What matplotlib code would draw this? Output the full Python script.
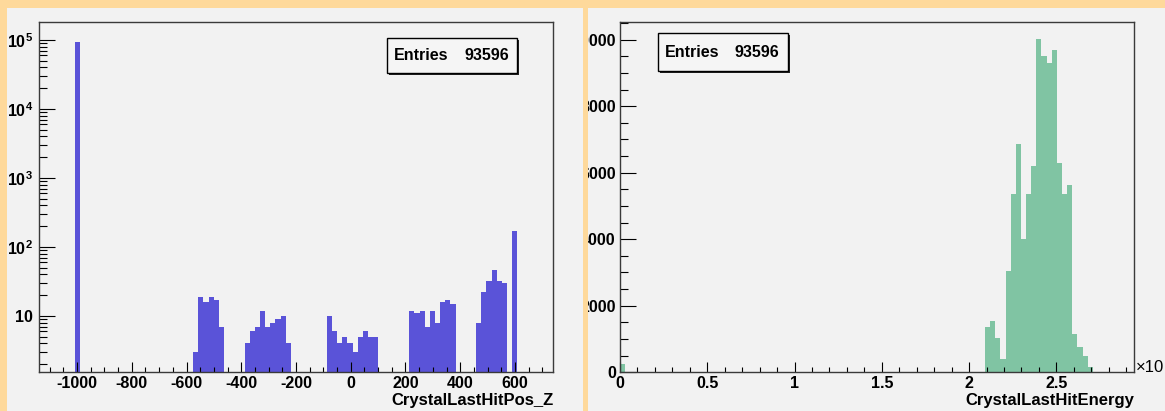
import numpy as np
import matplotlib.pyplot as plt
from matplotlib.ticker import MultipleLocator, FixedLocator, LogLocator, NullFormatter
from matplotlib.patches import Rectangle
from matplotlib.transforms import Bbox, TransformedBbox

plt.rcParams['font.family'] = 'Liberation Sans'
plt.rcParams['font.weight'] = 'bold'
plt.rcParams['axes.labelweight'] = 'bold'
plt.rcParams['axes.unicode_minus'] = False
plt.rcParams['mathtext.fontset'] = 'custom'
plt.rcParams['mathtext.rm'] = 'Liberation Sans:bold'
plt.rcParams['mathtext.it'] = 'Liberation Sans:bold'
plt.rcParams['mathtext.bf'] = 'Liberation Sans:bold'

# CrystalLastHitPos_Z : 100 bins from -1140 to 740, only filled bins listed
pos_range = (-1140, 740)
pos_nbins = 100
pos_bins = [7,
            30, 31, 32, 33, 34, 35,
            40, 41, 42, 43, 44, 45, 46, 47, 48,
            56, 57, 58, 59, 60, 61, 62, 63, 64, 65,
            72, 73, 74, 75, 76, 77, 78, 79, 80,
            85, 86, 87, 88, 89, 90,
            92]
pos_counts = [92943,
              3, 19, 16, 19, 17, 7,
              4, 6, 7, 12, 7, 8, 9, 10, 4,
              10, 6, 4, 5, 4, 3, 5, 6, 5, 5,
              12, 11, 12, 7, 12, 8, 16, 17, 15,
              8, 22, 32, 46, 32, 30,
              172]

# CrystalLastHitEnergy : 100 bins from 0 to 2.945 (x10^3)
energy_range = (0, 2.945)
energy_nbins = 100
energy_bins = [0, 71, 72, 73, 74, 75, 76, 77, 78, 79, 80,
               81, 82, 83, 84, 85, 86, 87, 88, 89, 90, 91]
energy_counts = [262, 1372, 1544, 1023, 400, 3058, 5366, 6870, 4002, 5356, 6187,
                 10020, 9497, 9298, 9678, 6289, 5366, 5616, 1144, 770, 500, 169]
n_entries = 93596

W, H = 1165, 411
PAD_BG = '#f2f2f2'
FRAME = '#fed99b'
BLUE = '#5a53d8'
GREEN = '#80c4a3'

def fx(x):
    return x / W

def fy(y):
    return 1 - y / H

fig = plt.figure(figsize=(W / 100, H / 100), dpi=100)
fig.patch.set_facecolor(FRAME)

# the two canvas pads
fig.add_artist(Rectangle((fx(7), 0), fx(583 - 7), fy(8), transform=fig.transFigure,
                         facecolor=PAD_BG, edgecolor='none', zorder=-5))
fig.add_artist(Rectangle((fx(588), 0), fx(W - 588), fy(8), transform=fig.transFigure,
                         facecolor=PAD_BG, edgecolor='none', zorder=-5))

ax1 = fig.add_axes([fx(38.7), fy(372.3), fx(553.3 - 38.7), (372.3 - 22.3) / H])
ax2 = fig.add_axes([fx(620), fy(372.3), fx(1134 - 620), (372.3 - 22.3) / H])


def fill_hist(ax, rng, nbins, bins, counts, color, log):
    edges = np.linspace(rng[0], rng[1], nbins + 1)
    full = np.zeros(nbins)
    full[bins] = counts
    ax.hist(edges[:-1], bins=edges, weights=full, histtype='stepfilled',
            color=color, linewidth=0, log=log)


for ax in (ax1, ax2):
    ax.set_facecolor(PAD_BG)
    for s in ax.spines.values():
        s.set_color('#3a3a3a')
        s.set_linewidth(1.0)
    ax.tick_params(which='both', direction='in', width=0.8, color='black',
                   labelsize=11.6, top=False, right=False)
    ax.tick_params(axis='y', which='major', length=11.5)
    ax.tick_params(axis='y', which='minor', length=5.8)
    ax.tick_params(axis='x', which='major', length=7.5, pad=3)
    ax.tick_params(axis='x', which='minor', length=3.3)

# left: position, log scale
fill_hist(ax1, pos_range, pos_nbins, pos_bins, pos_counts, BLUE, True)
ax1.set_xlim(pos_range)
ax1.set_ylim(1.53, 1.8e5)
ax1.xaxis.set_major_locator(MultipleLocator(200))
ax1.xaxis.set_minor_locator(MultipleLocator(50))
ax1.yaxis.set_major_locator(FixedLocator([10, 1e2, 1e3, 1e4, 1e5]))
ax1.set_yticklabels(['10', '$10^{2}$', '$10^{3}$', '$10^{4}$', '$10^{5}$'])
ax1.yaxis.set_minor_locator(LogLocator(base=10, subs=np.arange(2, 10)))
ax1.yaxis.set_minor_formatter(NullFormatter())
ax1.tick_params(axis='y', which='major', pad=4)
ax1.set_xlabel('CrystalLastHitPos_Z', fontsize=12, fontweight='bold', loc='right', va='center')
ax1.xaxis.set_label_coords(1.0, -27.7 / 350)

# right: energy, linear scale
fill_hist(ax2, energy_range, energy_nbins, energy_bins, energy_counts, GREEN, False)
ax2.set_xlim(energy_range)
ax2.set_ylim(0, 10521)
ax2.xaxis.set_major_locator(MultipleLocator(0.5))
ax2.xaxis.set_minor_locator(MultipleLocator(0.1))
ax2.set_xticks([0, 0.5, 1, 1.5, 2, 2.5])
ax2.set_xticklabels(['0', '0.5', '1', '1.5', '2', '2.5'])
ax2.set_yticks([0, 2000, 4000, 6000, 8000, 10000])
ax2.set_yticklabels(['0', '2000', '4000', '6000', '8000', '10000'])
ax2.yaxis.set_minor_locator(MultipleLocator(500))
ax2.tick_params(axis='y', which='major', pad=3)
ax2.set_xlabel('CrystalLastHitEnergy', fontsize=12, fontweight='bold', loc='right', va='center')
ax2.xaxis.set_label_coords(1.0, -27.7 / 350)
ax2.text(1.003, 0.013, '\u00d710', transform=ax2.transAxes, fontsize=12,
         fontweight='normal', ha='left', va='center')

# y labels of the right pad are cut at the pad edge
pad_clip = TransformedBbox(Bbox.from_extents(fx(588), 0, 1, 1), fig.transFigure)
for lab in ax2.get_yticklabels():
    lab.set_clip_box(pad_clip)
    lab.set_clip_on(True)


def stats_box(x0, y0, x1, y1):
    fig.add_artist(Rectangle((fx(x0 + 2), fy(y1 + 2)), fx(x1 - x0), (y1 - y0) / H,
                             transform=fig.transFigure, facecolor='#222222',
                             edgecolor='none', zorder=5))
    fig.add_artist(Rectangle((fx(x0), fy(y1)), fx(x1 - x0), (y1 - y0) / H,
                             transform=fig.transFigure, facecolor='#f5f5f5',
                             edgecolor='black', linewidth=1, zorder=6))
    ym = fy((y0 + y1) / 2)
    fig.text(fx(x0 + 7), ym, 'Entries', fontsize=11.5, ha='left', va='center', zorder=7)
    fig.text(fx(x1 - 8), ym, str(n_entries), fontsize=11.5, ha='right', va='center', zorder=7)


stats_box(387.3, 38.3, 517.3, 72.7)
stats_box(657.7, 33.3, 787.7, 70.7)

fig.savefig('out.png', dpi=100, facecolor=FRAME)
